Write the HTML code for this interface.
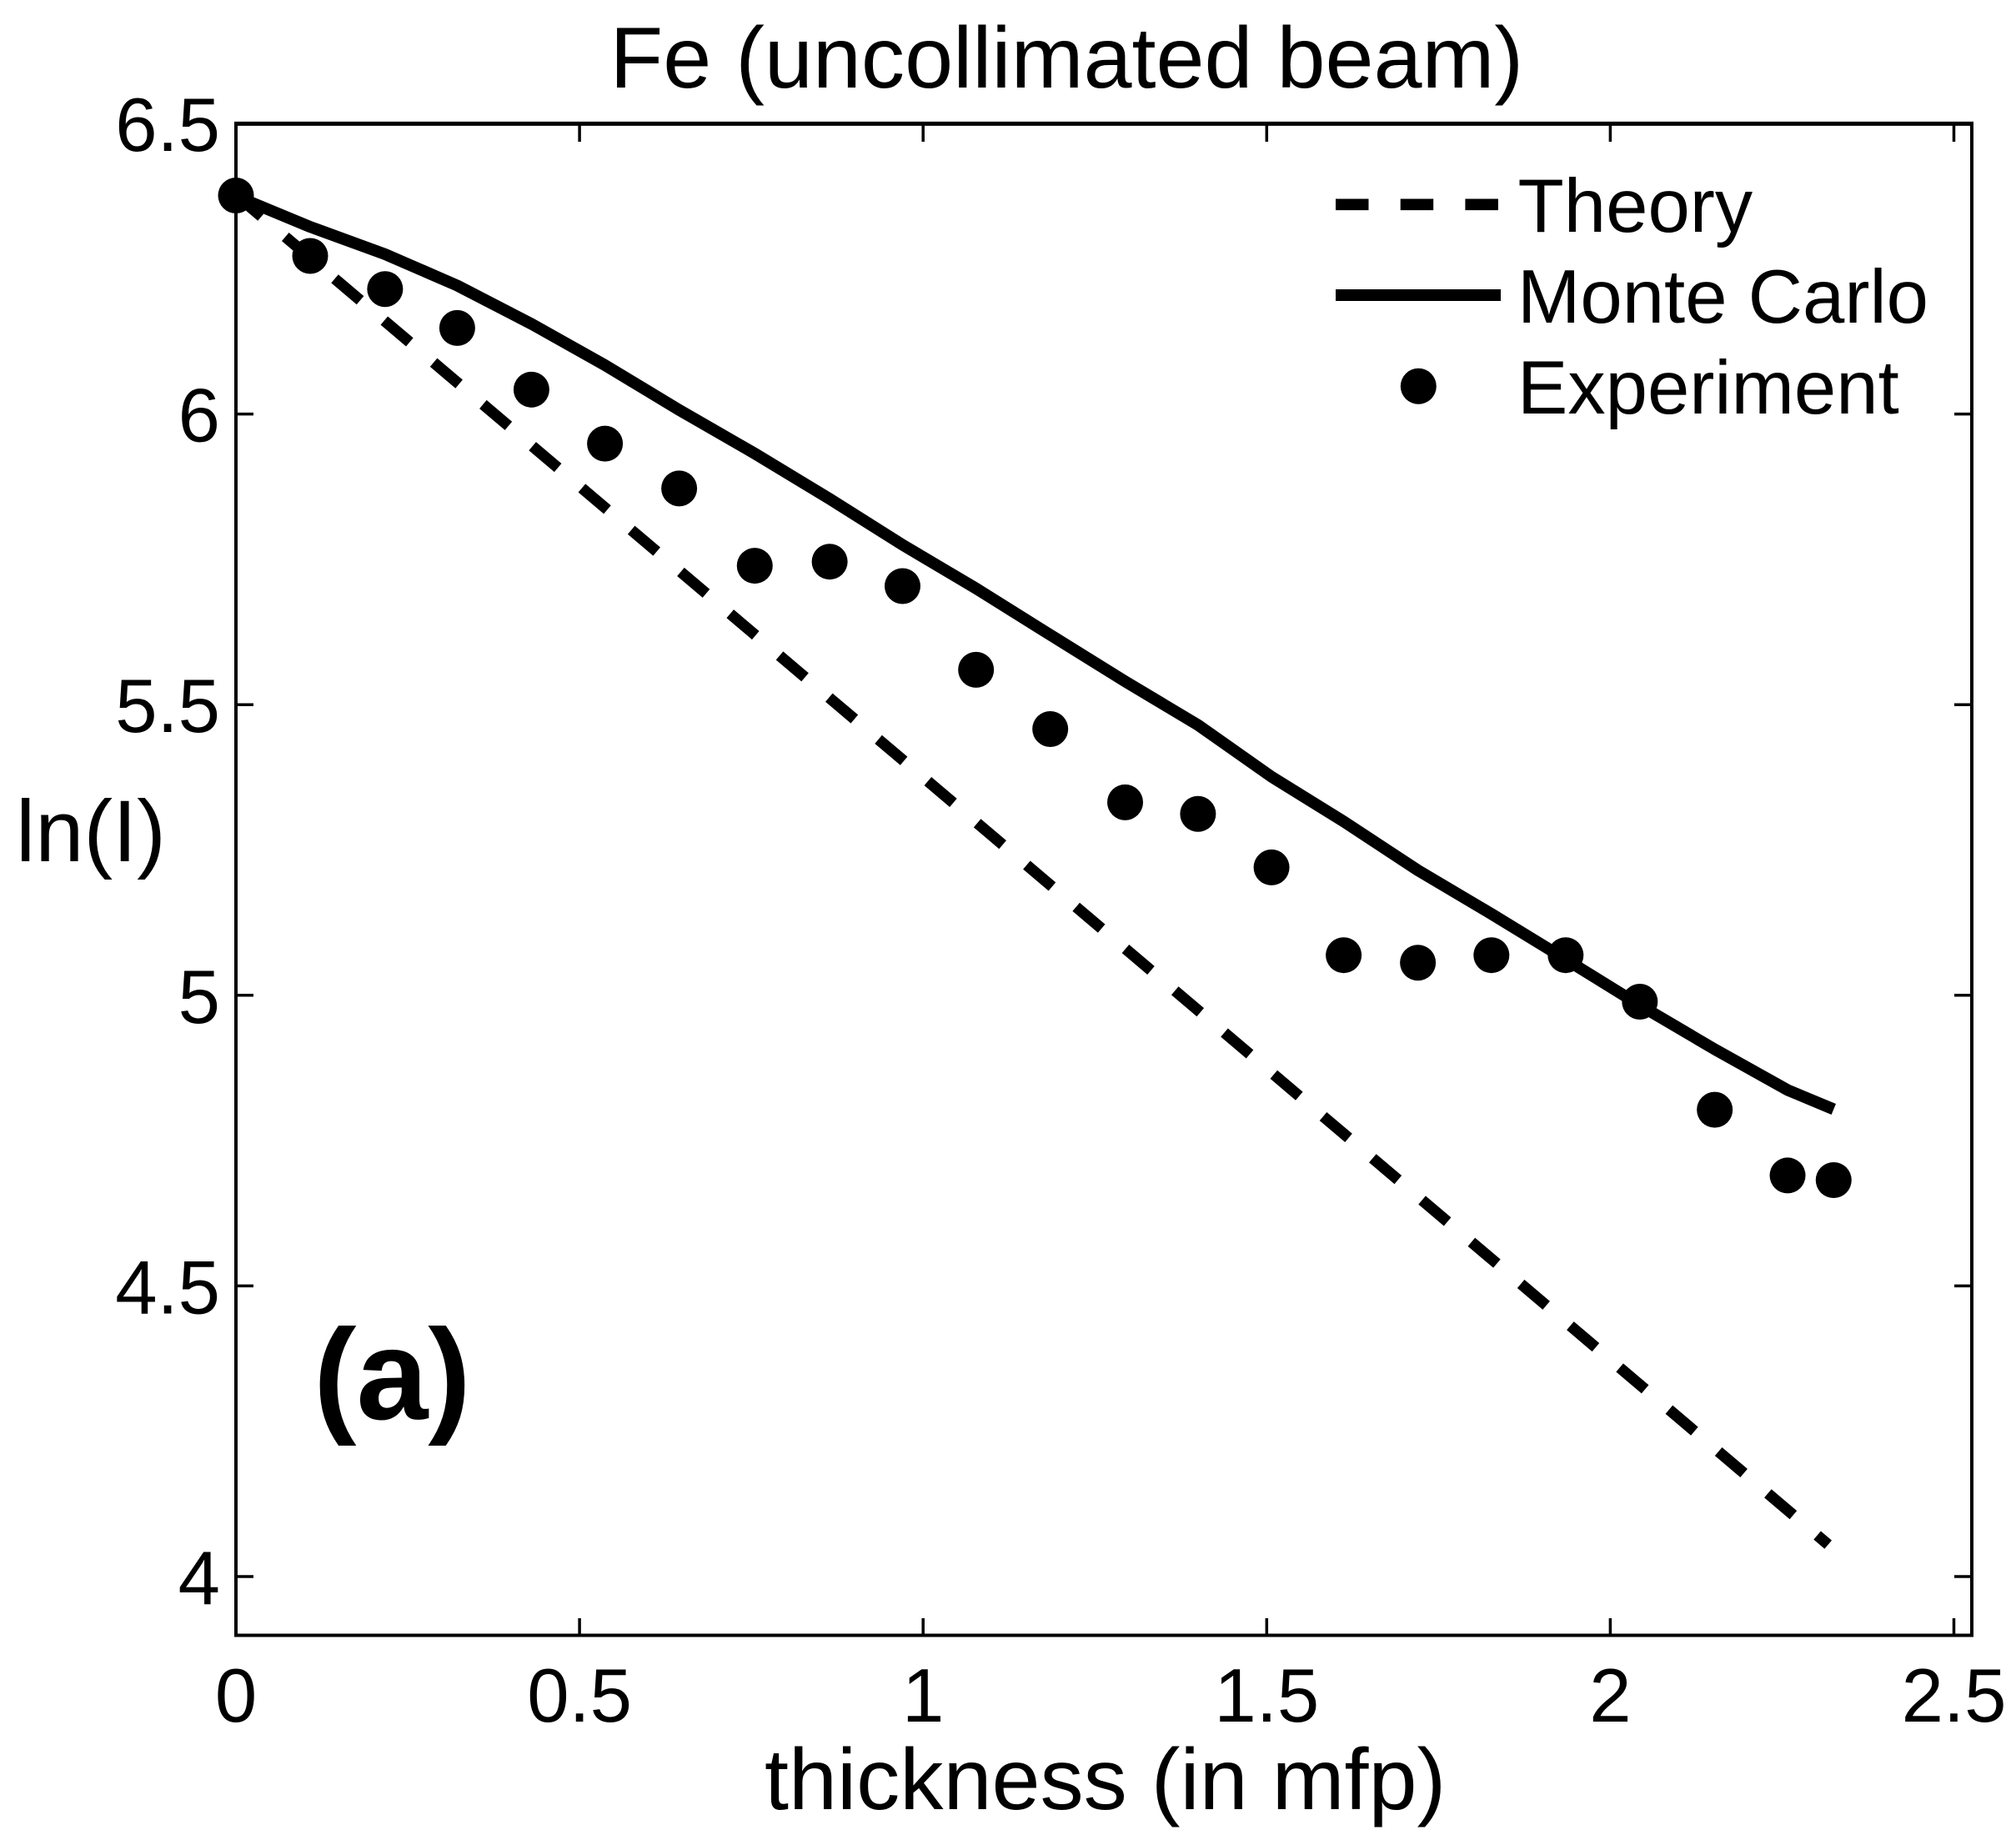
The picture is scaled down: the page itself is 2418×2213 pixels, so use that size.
<!DOCTYPE html>
<html lang="en">
<head>
<meta charset="utf-8">
<title>Fe (uncollimated beam)</title>
<style>
html,body{margin:0;padding:0;background:#fff;}
svg{display:block;}
text{font-family:"Liberation Sans",Arial,sans-serif;fill:#000;}
</style>
</head>
<body>
<svg id="chart" xmlns="http://www.w3.org/2000/svg" width="2418" height="2213" viewBox="0 0 2418 2213">
  <rect x="0" y="0" width="2418" height="2213" fill="#fff"/>
  <text x="731.5" y="105" font-size="104.3">Fe (uncollimated beam)</text>
  <text x="917" y="2170" font-size="104.3">thickness (in mfp)</text>
  <text x="19" y="1033" font-size="104.5">ln(I)</text>
  <text x="376" y="1702" font-size="154.5" font-weight="bold">(a)</text>
  <g id="ticks"></g>
  <g id="series"></g>
  <rect x="283" y="148.5" width="2082" height="1813" fill="none" stroke="#000" stroke-width="4"/>
  <line x1="281" y1="148.4" x2="2367" y2="148.4" stroke="#000" stroke-width="5"/>
  <g>
    <g>
      <line x1="1602" y1="245.3" x2="1797" y2="245.3" stroke="#000" stroke-width="13.7" stroke-dasharray="39.5 38.2"/>
      <text x="1820.5" y="278" font-size="90.5">Theory</text>
    </g>
    <g>
      <line x1="1602" y1="354" x2="1800" y2="354" stroke="#000" stroke-width="14"/>
      <text x="1820" y="387" font-size="90.5">Monte Carlo</text>
    </g>
    <g>
      <circle cx="1701.3" cy="463.3" r="21.5" fill="#000"/>
      <text x="1820" y="496" font-size="90.5">Experiment</text>
    </g>
  </g>
</svg>
<script>
const xTickValues = [0, 0.5, 1, 1.5, 2, 2.5];
const xTickLabels = ["0", "0.5", "1", "1.5", "2", "2.5"];
const yTickValues = [4, 4.5, 5, 5.5, 6, 6.5];
const yTickLabels = ["4", "4.5", "5", "5.5", "6", "6.5"];

const theoryThickness = [0, 0.5, 1, 1.5, 2, 2.317];
const theoryLnI = [6.377, 5.876, 5.375, 4.874, 4.373, 4.055];

const monteCarloThickness = [0.01, 0.108, 0.217, 0.322, 0.43, 0.537, 0.645, 0.755, 0.864, 0.97, 1.077, 1.185, 1.294, 1.4, 1.507, 1.612, 1.72, 1.827, 1.935, 2.043, 2.152, 2.258, 2.325];
const monteCarloLnI = [6.37, 6.322, 6.275, 6.221, 6.155, 6.084, 6.007, 5.932, 5.854, 5.775, 5.70, 5.62, 5.54, 5.465, 5.376, 5.299, 5.215, 5.14, 5.062, 4.983, 4.907, 4.837, 4.804];

const experimentThickness = [0, 0.108, 0.217, 0.322, 0.43, 0.537, 0.645, 0.755, 0.864, 0.97, 1.077, 1.185, 1.294, 1.4, 1.507, 1.612, 1.72, 1.827, 1.935, 2.043, 2.152, 2.258, 2.325];
const experimentLnI = [6.376, 6.272, 6.215, 6.148, 6.042, 5.949, 5.872, 5.739, 5.746, 5.704, 5.56, 5.458, 5.332, 5.312, 5.22, 5.069, 5.056, 5.069, 5.069, 4.989, 4.803, 4.69, 4.682];

const NS = "http://www.w3.org/2000/svg";
const xScale = function (v) { return 283 + 824.2 * v; };
const yScale = function (v) { return 1891 - 697.2 * (v - 4); };
const tickLayer = document.getElementById("ticks");
const seriesLayer = document.getElementById("series");

function makeLine(x1, y1, x2, y2) {
  const l = document.createElementNS(NS, "line");
  l.setAttribute("x1", x1);
  l.setAttribute("y1", y1);
  l.setAttribute("x2", x2);
  l.setAttribute("y2", y2);
  l.setAttribute("stroke", "#000");
  l.setAttribute("stroke-width", "3.5");
  return l;
}

xTickValues.forEach(function (v, i) {
  const px = xScale(v);
  const bottom = makeLine(px, 1961, px, 1941);
  
  
  tickLayer.appendChild(bottom);
  const top = makeLine(px, 149, px, 170);
  
  
  tickLayer.appendChild(top);
  const t = document.createElementNS(NS, "text");
  
  
  t.setAttribute("x", px);
  t.setAttribute("y", 2065);
  t.setAttribute("font-size", "90.5");
  t.setAttribute("text-anchor", "middle");
  t.textContent = xTickLabels[i];
  tickLayer.appendChild(t);
});

yTickValues.forEach(function (v, i) {
  const py = yScale(v);
  const left = makeLine(283, py, 304, py);
  
  
  tickLayer.appendChild(left);
  const right = makeLine(2365, py, 2344, py);
  
  
  tickLayer.appendChild(right);
  const t = document.createElementNS(NS, "text");
  
  
  t.setAttribute("x", 264);
  t.setAttribute("y", py + 33);
  t.setAttribute("font-size", "90.5");
  t.setAttribute("text-anchor", "end");
  t.textContent = yTickLabels[i];
  tickLayer.appendChild(t);
});

function pointList(xs, ys) {
  return xs.map(function (x, i) {
    return xScale(x).toFixed(1) + "," + yScale(ys[i]).toFixed(1);
  }).join(" ");
}

const theoryLine = document.createElementNS(NS, "polyline");


theoryLine.setAttribute("points", pointList(theoryThickness, theoryLnI));
theoryLine.setAttribute("fill", "none");
theoryLine.setAttribute("stroke", "#000");
theoryLine.setAttribute("stroke-width", "13.3");
theoryLine.setAttribute("stroke-dasharray", "40 37.7");
seriesLayer.appendChild(theoryLine);

const monteCarloLine = document.createElementNS(NS, "polyline");


monteCarloLine.setAttribute("points", pointList(monteCarloThickness, monteCarloLnI));
monteCarloLine.setAttribute("fill", "none");
monteCarloLine.setAttribute("stroke", "#000");
monteCarloLine.setAttribute("stroke-width", "14");
monteCarloLine.setAttribute("stroke-linejoin", "round");
seriesLayer.appendChild(monteCarloLine);

experimentThickness.forEach(function (x, i) {
  const c = document.createElementNS(NS, "circle");
  
  
  c.setAttribute("cx", xScale(x));
  c.setAttribute("cy", yScale(experimentLnI[i]));
  c.setAttribute("r", "21.5");
  c.setAttribute("fill", "#000");
  seriesLayer.appendChild(c);
});
</script>
</body>
</html>
